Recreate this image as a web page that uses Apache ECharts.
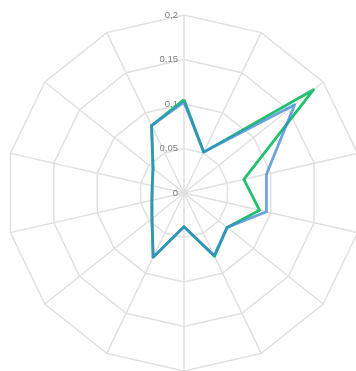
<!DOCTYPE html>
<html>
<head>
<meta charset="utf-8">
<script src="https://cdn.jsdelivr.net/npm/echarts@6/dist/echarts.min.js"></script>
<style>html,body{margin:0;padding:0;background:#fff;}#c{width:356px;height:371px;}</style>
</head>
<body>
<div id="c"></div>
<script>
// Values listed clockwise starting from the top spoke
var spokes = ['1','2','3','4','5','6','7','8','9','10','11','12','13','14'];
var blueValues  = [0.102, 0.051, 0.159, 0.095, 0.095, 0.062, 0.078, 0.038, 0.080, 0.046, 0.037, 0.0366, 0.0445, 0.084];
var greenValues = [0.105, 0.051, 0.186, 0.069, 0.087, 0.062, 0.079, 0.038, 0.080, 0.046, 0.037, 0.0366, 0.0445, 0.084];
var tickLabels = ['0', '0,05', '0,1', '0,15', '0,2'];
var axisMax = 0.2;

// ECharts lays radar indicators counter-clockwise: reorder (keep first, reverse rest)
function ccw(arr) { return [arr[0]].concat(arr.slice(1).reverse()); }

var names = ccw(spokes);
var indicator = names.map(function (n, i) {
  var ind = { name: n, min: 0, max: axisMax };
  if (i === 0) {
    ind.axisLabel = {
      show: true, color: '#808080', fontSize: 9.5, fontFamily: 'Liberation Sans',
      margin: 6,
      formatter: function (v) {
        var idx = Math.round(v / 0.05);
        return tickLabels[idx] !== undefined ? tickLabels[idx] : '';
      }
    };
  }
  return ind;
});

var chart = echarts.init(document.getElementById('c'));
chart.setOption({
  animation: false,
  radar: {
    center: [184, 193],
    radius: 178,
    startAngle: 90,
    splitNumber: 4,
    shape: 'polygon',
    indicator: indicator,
    axisName: { show: false },
    axisLabel: { show: false },
    axisLine: { lineStyle: { color: '#e0e0e0', width: 1.5 } },
    splitLine: { lineStyle: { color: '#e0e0e0', width: 1.5 } },
    splitArea: { show: false },
    axisTick: { show: false }
  },
  series: [{
    type: 'radar',
    symbol: 'none',
    data: [
      { value: ccw(greenValues), name: 'green',
        lineStyle: { color: '#22c070', width: 2.8 } },
      { value: ccw(blueValues), name: 'blue',
        lineStyle: { color: '#3a86d4', width: 2.8, opacity: 0.75 } }
    ]
  }]
});
</script>
</body>
</html>
